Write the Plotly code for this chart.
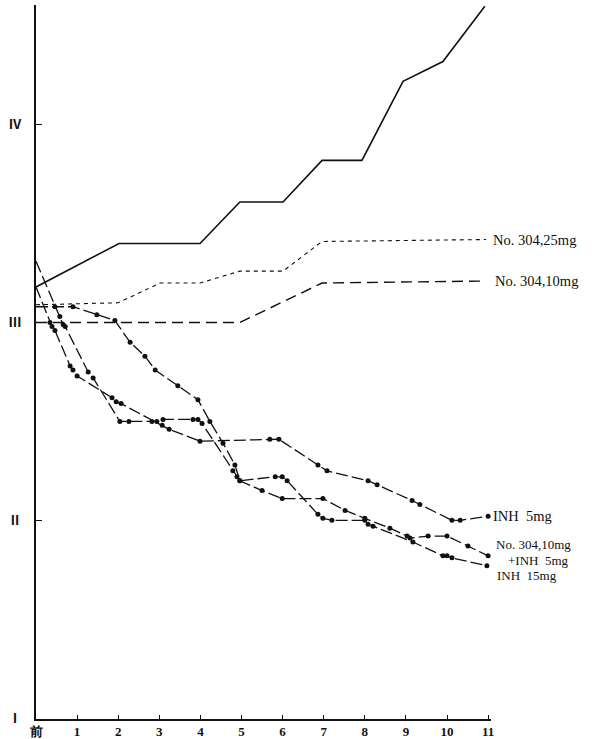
import plotly.graph_objects as go

# ---- axis labels ----
week_ticks = list(range(12))
week_labels = ["前", "1", "2", "3", "4", "5", "6", "7", "8", "9", "10", "11"]
grade_ticks = [1, 2, 3, 4]
grade_labels = ["Ⅰ", "Ⅱ", "Ⅲ", "Ⅳ"]

# ---- series (weeks, grade) ----
ctrl_x = [0, 2.02, 3.99, 4.96, 6.01, 6.96, 7.93, 8.93, 9.90, 10.92]
ctrl_y = [3.18, 3.40, 3.40, 3.61, 3.61, 3.82, 3.82, 4.22, 4.32, 4.60]

n304_25_x = [0, 2.0, 3.02, 3.99, 4.96, 6.01, 6.96, 10.95]
n304_25_y = [3.09, 3.10, 3.20, 3.20, 3.26, 3.26, 3.41, 3.42]

n304_10_x = [0, 4.96, 6.96, 10.95]
n304_10_y = [3.0, 3.0, 3.2, 3.21]

combo_x = [0, 0.46, 0.90, 1.48, 1.92, 2.29, 2.65, 2.90, 3.45, 3.94, 4.23, 4.55, 4.84,
           4.96, 5.50, 5.99, 6.98, 7.52, 8.00, 8.61, 9.03, 9.10, 9.54, 10.00, 10.51, 11.00]
combo_y = [3.08, 3.08, 3.08, 3.04, 3.01, 2.90, 2.83, 2.76, 2.68, 2.61, 2.50, 2.39, 2.28,
           2.20, 2.15, 2.11, 2.11, 2.05, 2.01, 1.96, 1.92, 1.91, 1.92, 1.92, 1.87, 1.82]

inh5_x = [0, 0.34, 0.39, 0.46, 0.83, 0.90, 1.00, 1.85, 1.95, 2.07, 3.07, 3.24, 3.99,
          5.69, 5.91, 6.86, 7.08, 8.08, 8.30, 9.15, 9.34, 10.12, 10.32, 11.00]
inh5_y = [3.18, 3.00, 2.98, 2.96, 2.78, 2.76, 2.73, 2.62, 2.60, 2.59, 2.48, 2.46, 2.40,
          2.41, 2.41, 2.28, 2.25, 2.20, 2.18, 2.10, 2.08, 2.00, 2.00, 2.02]

inh15_x = [0, 0.58, 0.66, 0.71, 1.27, 1.39, 2.04, 2.26, 2.82, 2.94, 3.09, 3.82, 3.94, 4.04,
           4.79, 4.89, 4.96, 5.82, 5.99, 6.11, 6.86, 6.98, 7.20, 8.00, 8.08, 8.20, 9.17,
           9.90, 10.00, 10.12, 10.97]
inh15_y = [3.31, 3.03, 2.99, 2.98, 2.75, 2.72, 2.50, 2.50, 2.50, 2.50, 2.51, 2.51, 2.51, 2.49,
           2.25, 2.22, 2.20, 2.22, 2.22, 2.20, 2.03, 2.01, 2.00, 2.00, 1.98, 1.97, 1.89,
           1.82, 1.82, 1.81, 1.77]

INK = "#111111"
SERIF = "Liberation Serif, DejaVu Serif, serif"

fig = go.Figure()

fig.add_trace(go.Scatter(x=ctrl_x, y=ctrl_y, mode="lines",
                         line=dict(color=INK, width=1.6)))
fig.add_trace(go.Scatter(x=n304_25_x, y=n304_25_y, mode="lines",
                         line=dict(color=INK, width=1.1, dash="4px,4px")))
fig.add_trace(go.Scatter(x=n304_10_x, y=n304_10_y, mode="lines",
                         line=dict(color=INK, width=1.4, dash="11px,6px")))

for xs, ys in [(combo_x, combo_y), (inh5_x, inh5_y), (inh15_x, inh15_y)]:
    fig.add_trace(go.Scatter(x=xs, y=ys, mode="lines",
                             line=dict(color=INK, width=1.3, dash="12px,4px")))
    fig.add_trace(go.Scatter(x=xs[1:], y=ys[1:], mode="markers",
                             marker=dict(color=INK, size=5)))

big_font = dict(family=SERIF, size=14.5, color=INK)
small_font = dict(family=SERIF, size=13, color=INK)
annots = [
    dict(x=n304_25_x[-1], y=n304_25_y[-1], text="No. 304,25mg", xshift=6, font=big_font),
    dict(x=n304_10_x[-1], y=n304_10_y[-1], text="No. 304,10mg", xshift=8, font=big_font),
    dict(x=inh5_x[-1], y=inh5_y[-1], text="INH  5mg", xshift=4, font=big_font),
    dict(x=combo_x[-1], y=combo_y[-1], text="No. 304,10mg", xshift=7, yshift=11,
         font=small_font),
    dict(x=combo_x[-1], y=combo_y[-1], text="+INH  5mg", xshift=19, yshift=-5,
         font=small_font),
    dict(x=inh15_x[-1], y=inh15_y[-1], text="INH  15mg", xshift=9, yshift=-10,
         font=small_font),
]
for a in annots:
    fig.add_annotation(xref="x", yref="y", showarrow=False, xanchor="left",
                       yanchor="middle", borderpad=0, **a)

fig.add_annotation(xref="x", yref="paper", x=11.58, y=0, yshift=-12, text="週",
                   showarrow=False, xanchor="center", yanchor="middle",
                   font=dict(family="Noto Sans CJK JP", size=12, color=INK))

fig.update_layout(
    width=599, height=739,
    margin=dict(l=36, r=108, t=5, b=20),
    paper_bgcolor="white", plot_bgcolor="white",
    showlegend=False,
    xaxis=dict(range=[0, 11.07], tickvals=week_ticks, ticktext=week_labels,
               automargin=False,
               showgrid=False, zeroline=False, showline=True, linecolor=INK,
               linewidth=1.5, ticks="inside", ticklen=4, tickwidth=1, tickcolor=INK,
               tickfont=dict(family=SERIF, size=13, color=INK, weight="bold"),
               ticklabelstandoff=0),
    yaxis=dict(range=[0.995, 4.606], tickvals=grade_ticks, ticktext=grade_labels,
               automargin=False,
               showgrid=False, zeroline=False, showline=True, linecolor=INK,
               linewidth=2, ticks="inside", ticklen=6, tickwidth=1, tickcolor=INK,
               tickfont=dict(family="Noto Sans CJK JP", size=13, color=INK, weight="bold"),
               ticklabelstandoff=10),
)

fig.write_html("out.html", config={"displayModeBar": False},
               post_script="document.body.style.margin='0';document.body.style.overflow='hidden';")
